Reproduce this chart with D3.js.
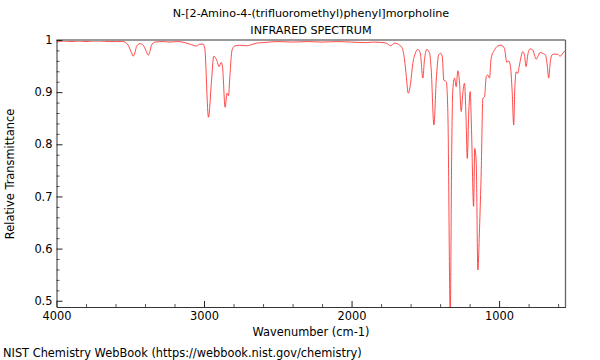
<!DOCTYPE html>
<html><head><meta charset="utf-8">
<script src="https://cdn.jsdelivr.net/npm/d3@7"></script>
<style>
body{margin:0;background:#fff;}
text{font-family:"DejaVu Sans",sans-serif;}
</style></head>
<body><svg id="c" width="600" height="360"></svg>
<script>
const titleLines = ["N-[2-Amino-4-(trifluoromethyl)phenyl]morpholine", "INFRARED SPECTRUM"];
const xLabel = "Wavenumber (cm-1)";
const yLabel = "Relative Transmittance";
const footer = "NIST Chemistry WebBook (https://webbook.nist.gov/chemistry)";
const xTicks = [4000, 3000, 2000, 1000];
const yTicks = [0.5, 0.6, 0.7, 0.8, 0.9, 1];
const yTickLabels = ["0.5", "0.6", "0.7", "0.8", "0.9", "1"];
const wavenumbers = [4000,3950,3900,3850,3800,3750,3700,3650,3600,3550,3536,3514,3491,3480,3469,3457,3435,3412,3394,3378,3367,3356,3333,3280,3230,3180,3130,3096,3051,3029,3006,2995,2970,2949,2934,2915,2898,2884,2875,2857,2844,2834,2825,2810,2792,2758,2712,2690,2645,2600,2500,2400,2300,2200,2100,2000,1900,1850,1810,1765,1735,1708,1674,1656,1641,1629,1616,1600,1585,1568,1551,1534,1517,1506,1490,1471,1460,1442,1426,1410,1397,1385,1375,1358,1347,1331,1322,1314,1302,1291,1280,1268,1257,1246,1235,1223,1216,1205,1196,1187,1173,1165,1155,1144,1133,1121,1110,1099,1087,1077,1065,1054,1031,1009,986,964,948,935,923,912,901,894,884,874,862,851,840,828,817,806,790,772,760,749,738,722,704,686,675,664,654,643,625,603,586,569,555];
const transmittance = [0.996,0.998,0.997,0.998,0.997,0.998,0.998,0.997,0.997,0.997,0.996,0.990,0.975,0.969,0.975,0.988,0.993,0.990,0.980,0.971,0.978,0.990,0.996,0.997,0.996,0.997,0.995,0.992,0.9885,0.992,0.992,0.984,0.852,0.923,0.969,0.962,0.949,0.957,0.949,0.871,0.898,0.893,0.930,0.981,0.9885,0.990,0.989,0.990,0.994,0.995,0.997,0.996,0.997,0.996,0.997,0.996,0.995,0.996,0.9955,0.994,0.989,0.994,0.990,0.984,0.962,0.930,0.898,0.917,0.955,0.9745,0.982,0.9745,0.927,0.962,0.982,0.9745,0.9425,0.837,0.923,0.971,0.9745,0.968,0.923,0.920,0.855,0.47,0.764,0.904,0.927,0.9105,0.941,0.917,0.863,0.898,0.917,0.840,0.773,0.866,0.901,0.828,0.681,0.792,0.764,0.559,0.636,0.751,0.888,0.891,0.930,0.933,0.927,0.965,0.981,0.9885,0.990,0.984,0.957,0.960,0.949,0.904,0.837,0.904,0.939,0.936,0.952,0.968,0.9776,0.971,0.949,0.971,0.983,0.981,0.971,0.963,0.968,0.976,0.9745,0.971,0.955,0.927,0.955,0.971,0.973,0.9726,0.969,0.9745,0.979];

const svg = d3.select("#c");
const L = 56.5, R = 565.5, T = 40, B = 307;
const FS = 11.4;
const x = d3.scaleLinear().domain([4000, 550]).range([L, R]);
const y = d3.scaleLinear().domain([0.488, 1.0]).range([B, T]);

svg.append("defs").append("clipPath").attr("id","clip")
  .append("rect").attr("x",L).attr("y",T-1).attr("width",R-L).attr("height",B-T+1);

const data = wavenumbers.map((w,i)=>[w, transmittance[i]]);
svg.append("path").datum(data)
  .attr("clip-path","url(#clip)")
  .attr("fill","none").attr("stroke","#ff2a2a").attr("stroke-width",0.85)
  .attr("d", d3.line().x(d=>x(d[0])).y(d=>y(d[1])).curve(d3.curveMonotoneX));

// frame top/right
svg.append("line").attr("x1",L).attr("x2",R).attr("y1",T).attr("y2",T).attr("stroke","#999").attr("stroke-width",2);
svg.append("line").attr("x1",R).attr("x2",R).attr("y1",T).attr("y2",B).attr("stroke","#666").attr("stroke-width",1.3);

// minor ticks
const xMinor = d3.range(4000, 549, -200).filter(v=>!xTicks.includes(v));
svg.append("g").attr("transform",`translate(0,${B})`)
  .call(d3.axisBottom(x).tickValues(xMinor).tickSize(-3).tickFormat(""))
  .call(g=>g.select(".domain").remove())
  .call(g=>g.selectAll("line").attr("stroke","#555"));
const yMinor = d3.range(0.5, 1.0001, 0.02).filter(v=>Math.abs(Math.round(v*10)-v*10)>1e-6);
svg.append("g").attr("transform",`translate(${L},0)`)
  .call(d3.axisLeft(y).tickValues(yMinor).tickSize(-3).tickFormat(""))
  .call(g=>g.select(".domain").remove())
  .call(g=>g.selectAll("line").attr("stroke","#555"));

// major axes
const gx = svg.append("g").attr("transform",`translate(0,${B})`)
  .call(d3.axisBottom(x).tickValues(xTicks).tickSize(-6).tickSizeOuter(0).tickPadding(5).tickFormat(d3.format("d")));
gx.selectAll("text").attr("font-size",FS).attr("fill","#000").attr("font-family","DejaVu Sans");
gx.select(".domain").attr("stroke","#333");
gx.selectAll("line").attr("stroke","#222");

const gy = svg.append("g").attr("transform",`translate(${L},0)`)
  .call(d3.axisLeft(y).tickValues(yTicks).tickSize(-6).tickSizeOuter(0).tickPadding(4).tickFormat((d,i)=>yTickLabels[i]));
gy.selectAll("text").attr("font-size",FS).attr("fill","#000").attr("font-family","DejaVu Sans");
gy.select(".domain").attr("stroke","#333");
gy.selectAll("line").attr("stroke","#222");

// texts
svg.append("text").attr("x",311).attr("y",17).attr("text-anchor","middle").attr("font-size",11.2).text(titleLines[0]);
svg.append("text").attr("x",311).attr("y",34).attr("text-anchor","middle").attr("font-size",11.2).text(titleLines[1]);
svg.append("text").attr("x",311).attr("y",336).attr("text-anchor","middle").attr("font-size",FS).text(xLabel);
svg.append("text").attr("transform","translate(14,174) rotate(-90)").attr("text-anchor","middle").attr("font-size",FS).text(yLabel);
svg.append("text").attr("x",3).attr("y",357).attr("font-size",FS).text(footer);
</script></body></html>
